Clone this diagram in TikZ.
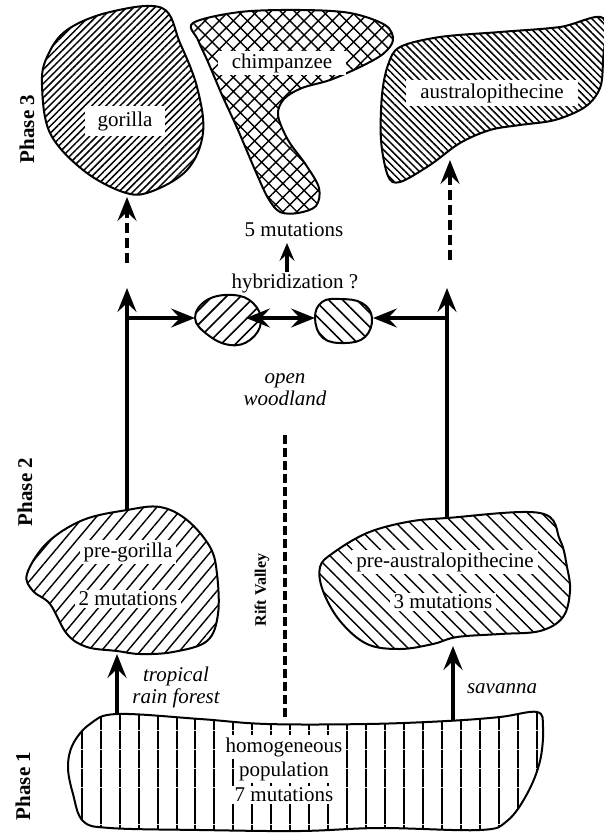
\documentclass[tikz,border=0pt]{standalone}
\usepackage{fontspec}
\setmainfont{Liberation Serif}
\usetikzlibrary{patterns.meta,arrows.meta}
\begin{document}
\begin{tikzpicture}[x=1pt,y=-1pt,
  blob/.style={draw=black,line width=2pt,line join=round},
  lab/.style={fill=white,inner xsep=4pt,inner ysep=2pt,font=\fontsize{21}{23}\selectfont},
  plain/.style={inner sep=1pt,font=\fontsize{21}{23}\selectfont},
  itl/.style={inner sep=1pt,align=center,font=\fontsize{21}{22}\selectfont\itshape},
  phase/.style={rotate=90,inner sep=1pt,font=\fontsize{21}{23}\selectfont\bfseries},
  arr/.style={line width=3.5pt,-{Stealth[length=24pt,width=19pt,inset=9pt]}},
  darr/.style={line width=3.5pt,{Stealth[length=24pt,width=19pt,inset=9pt]}-{Stealth[length=24pt,width=19pt,inset=9pt]}},
  dasharr/.style={line width=4.5pt,dash pattern=on 10pt off 5pt,-{Stealth[length=24pt,width=19pt,inset=9pt]}},
  rift/.style={line width=4.5pt,dash pattern=on 9pt off 4pt}
]
\useasboundingbox (0,0) rectangle (603,834);

% ---- Phase 3 blobs ----
\path[blob,pattern={Lines[angle=45,distance=5pt,line width=1.5pt]}]
  plot[smooth cycle,tension=0.6] coordinates {(162,8) (110,12) (67,30) (47,57) (42,85) (50,133) (83,170) (123,192) (150,192) (187,170) (203,133) (197,87) (180,43)};
\path[blob,pattern={Hatch[angle=45,distance=10pt,line width=1.4pt]}]
  plot[smooth cycle,tension=0.55] coordinates {(193,23) (240,12) (300,10) (350,13) (385,25) (393,40) (383,54) (360,67) (330,80) (302,88) (284,99) (278,115) (288,140) (306,165) (319,188) (316,206) (298,213) (280,212) (268,198) (255,170) (238,130) (222,95) (208,62) (198,40)};
\path[blob,pattern={Lines[angle=-45,distance=5pt,line width=1.5pt]}]
  plot[smooth cycle,tension=0.55] coordinates {(400,47) (440,37) (500,32) (560,27) (603,18) (603,60) (600,88) (585,107) (555,120) (520,125) (490,130) (460,143) (430,165) (400,182) (388,176) (381,140) (382,95) (388,65)};

\node[lab,inner xsep=13pt,inner ysep=5pt] (gorilla) at (125,121) {gorilla};
\node[lab,inner xsep=14pt] (chimp) at (282,63) {chimpanzee};
\node[lab,inner xsep=14pt,inner ysep=3pt] (austr) at (492,93) {australopithecine};

\node[plain] (mut5) at (294,230) {5 mutations};
\node[plain] (hyb) at (295,283) {hybridization ?};
\coordinate (h1) at (287,272);
\coordinate (h2) at (287,243);
\draw[line width=3.5pt,-{Stealth[length=18pt,width=15pt,inset=7pt]}] (h1) -- (h2);

% ---- small blobs ----
\path[blob,pattern={Lines[angle=45,distance=10pt,line width=1.6pt]}]
  plot[smooth cycle,tension=0.7] coordinates {(195,318) (207,300) (233,295) (253,303) (261,322) (250,340) (230,345) (208,335)};
\path[blob,pattern={Lines[angle=-45,distance=10pt,line width=1.6pt]}]
  plot[smooth cycle,tension=0.7] coordinates {(315,318) (322,302) (340,299) (362,303) (372,318) (365,337) (345,343) (323,338)};

% ---- Phase 2 blobs ----
\path[blob,pattern={Lines[angle=50,distance=10pt,line width=1.4pt]}]
  plot[smooth cycle,tension=0.6] coordinates {(47,543) (83,520) (127,510) (160,507) (187,520) (210,547) (217,574) (218,614) (207,641) (173,652) (140,654) (117,651) (87,647) (67,634) (50,604) (33,591) (27,574)};
\path[blob,pattern={Lines[angle=-45,distance=10pt,line width=1.4pt]}]
  plot[smooth cycle,tension=0.6] coordinates {(333,553) (367,533) (407,522) (447,518) (540,513) (560,540) (567,567) (570,591) (563,617) (540,631) (500,634) (457,637) (433,644) (400,649) (367,644) (340,621) (323,591) (320,567)};

\node[lab] (pregor) at (128,552) {pre-gorilla};
\node[lab] (mut2) at (128,599) {2 mutations};
\node[lab] (preaus) at (445,562) {pre-australopithecine};
\node[lab] (mut3) at (443,602) {3 mutations};

% ---- Phase 1 blob ----
\path[blob,pattern={Lines[angle=90,distance=18.5pt,line width=1.6pt]}]
  plot[smooth cycle,tension=0.6] coordinates {(117,714) (200,719) (267,724) (367,724) (447,721) (500,717) (537,712) (543,727) (540,761) (527,794) (507,821) (480,830) (380,828) (300,831) (200,830) (110,828) (83,821) (73,794) (68,767) (73,744) (90,724)};

\node[lab] (homog) at (284,747) {homogeneous};
\node[lab] (popul) at (284,771) {population};
\node[lab] (mut7) at (284,795) {7 mutations};

% ---- connectors ----
\coordinate (gtop) at (127,510);
\coordinate (gup) at (127,288);
\coordinate (gmid) at (127,318);
\coordinate (sbl) at (195,318);
\coordinate (sbl2) at (246,318);
\coordinate (sbr) at (315,318);
\coordinate (atop) at (447,518);
\coordinate (aup) at (447,288);
\coordinate (amid) at (447,318);
\coordinate (sbr2) at (373,318);
\draw[arr] (gtop) -- (gup);
\draw[arr] (gmid) -- (sbl);
\draw[darr] (sbl2) -- (sbr);
\draw[arr] (atop) -- (aup);
\draw[arr] (amid) -- (sbr2);

\coordinate (gd1) at (127,263);
\coordinate (gd2) at (127,197);
\coordinate (ad1) at (450,260);
\coordinate (ad2) at (450,160);
\draw[dasharr] (gd1) -- (gd2);
\draw[dasharr] (ad1) -- (ad2);

\coordinate (p1l) at (117,714);
\coordinate (p2l) at (117,654);
\coordinate (p1r) at (453,721);
\coordinate (p2r) at (453,646);
\draw[arr] (p1l) -- (p2l);
\draw[arr] (p1r) -- (p2r);

\node[itl] (trop) at (176,687) {tropical\\rain forest};
\node[itl] (sav) at (502,689) {savanna};
\node[itl] (open) at (285,390) {open\\woodland};

% ---- Rift Valley ----
\coordinate (r1) at (285,435);
\coordinate (r2) at (285,719);
\draw[rift] (r1) -- (r2);
\node[rotate=90,inner sep=1pt,font=\fontsize{16}{18}\selectfont\bfseries] (riftlab) at (262,590) {Rift Valley};

% ---- Phase labels ----
\node[phase] (ph3) at (27,129) {Phase 3};
\node[phase] (ph2) at (25,492) {Phase 2};
\node[phase] (ph1) at (23,786) {Phase 1};
\end{tikzpicture}
\end{document}
